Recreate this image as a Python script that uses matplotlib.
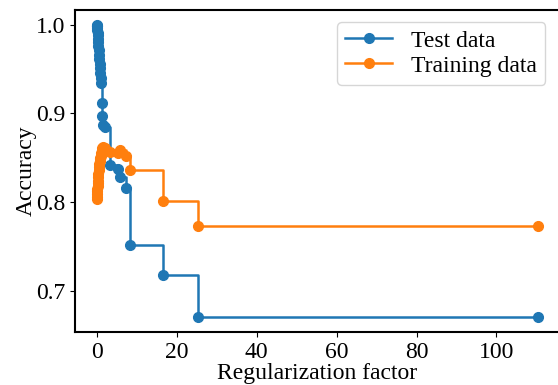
import matplotlib
matplotlib.use('Agg')
import matplotlib.pyplot as plt

plt.rcParams['font.family'] = ['Liberation Serif', 'DejaVu Serif']
plt.rcParams['font.size'] = 17

# Regularization factor (alpha) values
alphas = [0.00, 0.03, 0.06, 0.10, 0.14, 0.18, 0.23, 0.28, 0.34, 0.40,
          0.47, 0.54, 0.62, 0.70, 0.80, 0.90, 1.00, 1.10, 1.20, 1.35,
          1.50, 2.00, 3.20, 5.20, 5.80, 7.40, 8.40, 16.5, 25.2, 110.3]

# Accuracy per alpha
test_acc = [1.000, 0.999, 0.998, 0.996, 0.994, 0.991, 0.988, 0.984, 0.980, 0.976,
            0.971, 0.966, 0.961, 0.956, 0.951, 0.946, 0.940, 0.934, 0.912, 0.897,
            0.887, 0.884, 0.842, 0.837, 0.828, 0.816, 0.751, 0.718, 0.670, 0.670]
train_acc = [0.803, 0.806, 0.809, 0.812, 0.815, 0.818, 0.821, 0.824, 0.828, 0.832,
             0.836, 0.840, 0.843, 0.846, 0.848, 0.850, 0.852, 0.855, 0.858, 0.861,
             0.862, 0.861, 0.856, 0.855, 0.859, 0.852, 0.836, 0.801, 0.773, 0.773]

x_ticks = [0, 20, 40, 60, 80, 100]
y_ticks = [0.7, 0.8, 0.9, 1.0]

fig, ax = plt.subplots(figsize=(5.58, 3.85), dpi=100)
fig.subplots_adjust(left=0.134, right=1.003, bottom=0.138, top=0.974)

ax.plot(alphas, test_acc, marker='o', markersize=7, linewidth=1.8,
        drawstyle='steps-post', label='Test data')
ax.plot(alphas, train_acc, marker='o', markersize=7, linewidth=1.8,
        drawstyle='steps-post', label='Training data')

ax.set_xlabel('Regularization factor', labelpad=0)
ax.set_ylabel('Accuracy', labelpad=-1)
ax.set_xticks(x_ticks)
ax.set_yticks(y_ticks)
ax.legend(loc='upper right', borderaxespad=0.5, bbox_to_anchor=(0.995, 1.0),
          labelspacing=0.15, borderpad=0.35)

for s in ax.spines.values():
    s.set_linewidth(1.5)

plt.savefig('out.png', dpi=100)
